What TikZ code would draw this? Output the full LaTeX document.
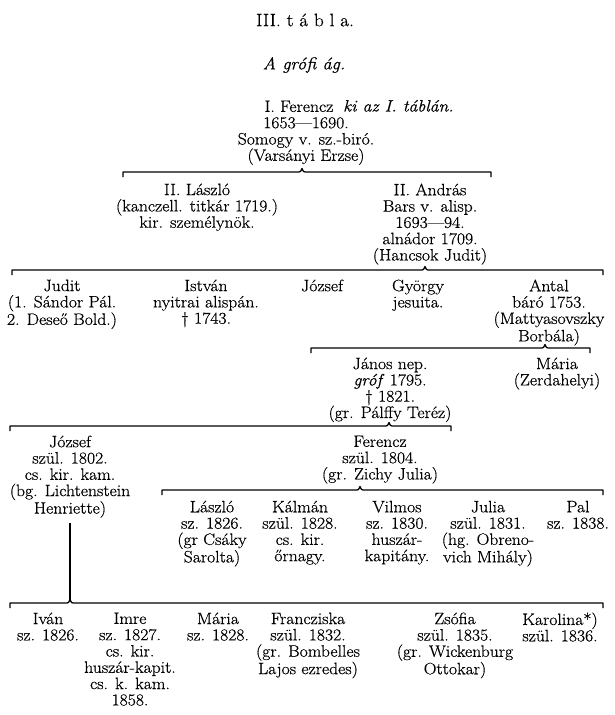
\documentclass[tikz,border=0pt]{standalone}
\usepackage{fontspec}
\setmainfont{Latin Modern Roman}[FakeStretch=1.07, FakeBold=0.6]
\usepackage{tikz}

\begin{document}
\begin{tikzpicture}[x=1pt, y=-1pt, font=\fontsize{16.5}{16.3}\selectfont,
  person/.style={align=center, inner sep=0pt, anchor=north},
  note/.style={inner sep=0pt, font=\fontsize{16.5}{16.3}\selectfont\itshape},
  famline/.style={line width=1.3pt, line join=round}]
\useasboundingbox (0,0) rectangle (614,715);
% headings
\node[inner sep=0pt, font=\fontsize{18}{20}\selectfont] (title) at (305,20) {III. t á b l a.};
\node[note, font=\fontsize{17}{20}\selectfont\itshape] (subtitle) at (304,65) {A grófi ág.};
% generation I
\node[person] (ferencz1) at (306,100.4)
   {\hspace*{-14pt}I. Ferencz\\1653—1690.\\Somogy v. sz.-biró.\\(Varsányi Erzse)};
\node[note, anchor=base west] (ferencz1note) at (343,111.5) {ki az I. táblán.};
% generation II
\node[person] (laszlo2) at (197,183.4) {II. László\\(kanczell. titkár 1719.)\\kir. személynök.};
\node[person] (andras2) at (430,183.4) {II. András\\Bars v. alisp.\\1693—94.\\alnádor 1709.\\(Hancsok Judit)};
% children of II. András
\node[person] (judit) at (62,279.4) {Judit\\(1. Sándor Pál.\\2. Deseő Bold.)};
\node[person] (istvan) at (206,279.4) {István\\nyitrai alispán.\\† 1743.};
\node[person] (jozsef3) at (322,279.4) {József};
\node[person] (gyorgy) at (418,279.4) {György\\jesuita.};
\node[person] (antal) at (549,279.4) {Antal\\báró 1753.\\(Mattyasovszky\\Borbála)};
% children of Antal
\node[person] (janos) at (390,357.4) {János nep.\\\textit{gróf} 1795.\\† 1821.\\(gr. Pálffy Teréz)};
\node[person] (maria4) at (557,357.4) {Mária\\(Zerdahelyi)};
% children of János
\node[person] (jozsef5) at (70,435.4) {József\\szül. 1802.\\cs. kir. kam.\\(bg. Lichtenstein\\Henriette)};
\node[person] (ferencz5) at (380,435.4) {Ferencz\\szül. 1804.\\(gr. Zichy Julia)};
% children of Ferencz
\node[person] (laszlo6) at (212,500.6) {László\\sz. 1826.\\(gr Csáky\\Sarolta)};
\node[person] (kalman) at (300,500.6) {Kálmán\\szül. 1828.\\cs. kir.\\őrnagy.};
\node[person] (vilmos) at (397,500.6) {Vilmos\\sz. 1830.\\huszár-\\kapitány.};
\node[person] (julia) at (488,500.6) {Julia\\szül. 1831.\\(hg. Obreno-\\vich Mihály)};
\node[person] (pal) at (578,500.6) {Pal\\sz. 1838.};
% children of József
\node[person] (ivan) at (48,612.4) {Iván\\sz. 1826.};
\node[person] (imre) at (130,612.4) {Imre\\sz. 1827.\\cs. kir.\\huszár-kapit.\\cs. k. kam.\\1858.};
\node[person] (maria7) at (218,612.4) {Mária\\sz. 1828.};
\node[person] (franc) at (308,612.4) {Francziska\\szül. 1832.\\(gr. Bombelles\\Lajos ezredes)};
\node[person] (zsofia) at (455,612.4) {Zsófia\\szül. 1835.\\(gr. Wickenburg\\Ottokar)};
\node[person] (karolina) at (560,612.4) {Karolina*)\\szül. 1836.};
% family brackets: y / left / caret / right
\foreach \i/\y/\l/\c/\r in {1/172/123/302/491, 2/270/12/425/603, 3/348/311/545/590,
    4/426/10/389/451, 5/490/162/360/603, 6/603/10/70/603} {
  \coordinate (l\i) at (\l,\y);
  \coordinate (c\i) at (\c,\y);
  \coordinate (r\i) at (\r,\y);
  \draw[famline] ([yshift=-5pt]l\i) -- (l\i) -- ([xshift=-5pt]c\i)
     .. controls ([xshift=-1.5pt]c\i) .. ([yshift=3.5pt]c\i)
     .. controls ([xshift=1.5pt]c\i) .. ([xshift=5pt]c\i) -- (r\i) -- ([yshift=-5pt]r\i);
}
\draw[famline] ([yshift=-5pt]jozsef5.south) -- ([yshift=3.5pt]c6);
\end{tikzpicture}
\end{document}
